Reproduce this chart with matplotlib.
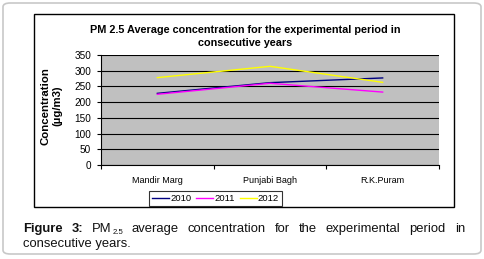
import matplotlib
matplotlib.use("Agg")
import matplotlib.pyplot as plt
from matplotlib.patches import Rectangle, FancyBboxPatch

plt.rcParams['font.family'] = ['Liberation Sans', 'DejaVu Sans']

W, H = 484, 259
categories = ["Mandir Marg", "Punjabi Bagh", "R.K.Puram"]
years = ["2010", "2011", "2012"]
values_2010 = [228, 262, 277]
values_2011 = [225, 260, 232]
values_2012 = [278, 314, 263]
series = [values_2010, values_2011, values_2012]
colors = ["#000080", "#FF00FF", "#FFFF00"]
yticks = [0, 50, 100, 150, 200, 250, 300, 350]

fig = plt.figure(figsize=(W/100, H/100), dpi=100)

def px(x, y):
    return x / W, 1 - y / H

# outer rounded frame
fig.patches.append(FancyBboxPatch(px(3, 254), (W-6)/W, (251)/H,
                                  boxstyle="round,pad=0,rounding_size=0.015",
                                  transform=fig.transFigure, fill=False,
                                  edgecolor="#c8c8c8", linewidth=1.2))
# chart border
x0, y0 = px(34, 207)
fig.patches.append(Rectangle((x0, y0), (454-34)/W, (207-14)/H,
                             transform=fig.transFigure, fill=False,
                             edgecolor="black", linewidth=1.0))

l, b = px(101, 165)
ax = fig.add_axes([l, b, 338/W, 110/H])
ax.set_facecolor("#C0C0C0")
xs = [0.5, 1.5, 2.5]
for vals, c, yr in zip(series, colors, years):
    ax.plot(xs, vals, color=c, linewidth=1.0, label=yr)
ax.set_xlim(0, 3)
ax.set_ylim(0, 350)
ax.set_yticks(yticks)
ax.set_yticklabels([str(v) for v in yticks], fontsize=7.2)
ax.yaxis.grid(True, color="black", linewidth=0.8)
ax.set_axisbelow(True)
ax.set_xticks([0, 1, 2, 3])
ax.set_xticklabels([])
ax.set_xticks(xs, minor=True)
ax.set_xticklabels(categories, minor=True, fontsize=6.5)
ax.tick_params(axis='x', which='minor', length=0, pad=8)
ax.tick_params(axis='x', which='major', length=3, direction='out', width=0.8)
ax.tick_params(axis='y', length=3, width=0.8, pad=4)
for s in ["top", "right"]:
    ax.spines[s].set_visible(False)
ax.spines["left"].set_linewidth(0.8)
ax.spines["bottom"].set_linewidth(0.8)

fig.text(*px(245, 36.5), "PM 2.5 Average concentration for the experimental period in\nconsecutive years",
         ha="center", va="center", fontsize=7.8, fontweight="bold", linespacing=1.4)
fig.text(*px(51.5, 106), "Concentration\n(µg/m3)", ha="center", va="center", rotation=90,
         fontsize=8.2, fontweight="bold", linespacing=1.25)

leg = fig.legend(loc="center", bbox_to_anchor=px(215.5, 198.5), ncol=3, fontsize=6.8,
                 frameon=True, fancybox=False, handlelength=1.8, handletextpad=0.15,
                 columnspacing=0.5, borderpad=0.3)
leg.get_frame().set_edgecolor("black")
leg.get_frame().set_linewidth(0.8)

# caption (justified first line)
cap_y = 229
cap_fs = 9.4
left_px, right_px = 23, 465
words1 = [("Figure", True), ("3:", True), ("PM", False), ("average", False),
          ("concentration", False), ("for", False), ("the", False),
          ("experimental", False), ("period", False), ("in", False)]
fig.canvas.draw()
r = fig.canvas.get_renderer()
items = []
for w, bold in words1:
    t = fig.text(0, 1 - cap_y / H, w, ha="left", va="center", fontsize=cap_fs,
                 fontweight="bold" if bold else "normal", color="#111111")
    items.append(t)
sub = fig.text(0, 0, "2.5", ha="left", va="bottom", fontsize=5.6, color="#111111")
widths = [t.get_window_extent(r).width for t in items]
sub_w = sub.get_window_extent(r).width + 0.5
idx_pm = 2
widths_eff = list(widths)
widths_eff[idx_pm] += sub_w
gap = (right_px - left_px - sum(widths_eff)) / (len(items) - 1)
x = left_px
for i, t in enumerate(items):
    t.set_x(x / W)
    if i == idx_pm:
        sub.set_position(((x + widths[i] + 0.5) / W, 1 - (cap_y + 7.5) / H))
    x += widths_eff[i] + gap
fig.text(*px(23, 243.5), "consecutive years.", ha="left", va="center", fontsize=cap_fs, color="#111111")

fig.savefig("out.png", dpi=100)
